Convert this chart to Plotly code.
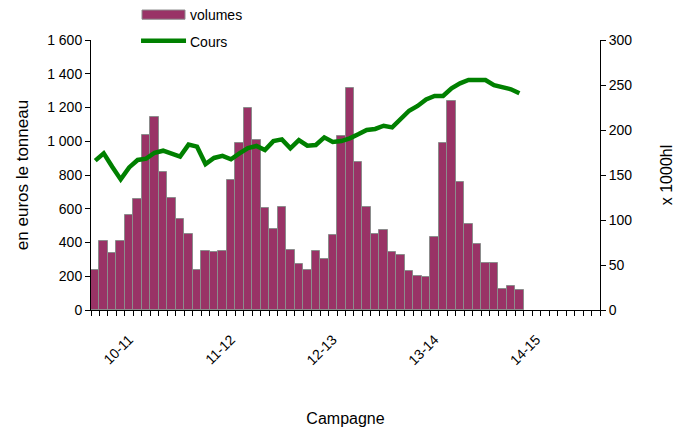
import numpy as np
import plotly.graph_objects as go

# Monthly transaction volumes (x 1000 hl) and average price (euros per tonneau)
volumes = [44, 77, 63, 77, 106, 123, 194, 215, 153, 125, 101, 84,
           45, 66, 64, 66, 144, 186, 225, 189, 113, 90, 115, 67,
           51, 45, 66, 57, 83, 193, 247, 165, 114, 84, 89, 65,
           61, 43, 38, 37, 81, 186, 232, 142, 96, 73, 52, 52,
           23, 27, 22]
cours = [885, 928, 849, 774, 845, 889, 897, 932, 944, 928, 909, 980,
         968, 865, 901, 913, 893, 928, 960, 972, 948, 1001, 1011, 958,
         1007, 974, 978, 1023, 996, 1001, 1017, 1041, 1067, 1073, 1092, 1082,
         1130, 1181, 1209, 1248, 1268, 1268, 1314, 1343, 1363, 1363, 1363, 1333,
         1320, 1308, 1284]

n_months = 60  # five campaigns of twelve months
campaign_labels = ["10-11", "11-12", "12-13", "13-14", "14-15"]
label_pos = [4 + 12 * i for i in range(len(campaign_labels))]

x_months = np.arange(len(volumes))

font = "Liberation Sans, Arial, sans-serif"
bar_color = "#993366"
bar_edge = "#8c8c8c"
line_color = "#008000"

fig = go.Figure()
# volumes on the right-hand scale, drawn first so the price line sits on top
fig.add_trace(go.Bar(
    x=x_months, y=volumes, name="volumes", yaxis="y",
    marker=dict(color=bar_color, line=dict(color=bar_edge, width=1)),
    showlegend=False,
))
fig.add_trace(go.Scatter(
    x=x_months, y=cours, name="Cours", yaxis="y2", mode="lines",
    line=dict(color=line_color, width=4.5),
    showlegend=False,
))

# hand-drawn legend block above the plot area
legend_shapes = [
    dict(type="rect", xref="paper", yref="paper",
         x0=0.1002, x1=0.1847, y0=1.077, y1=1.111,
         fillcolor=bar_color, line=dict(color=bar_edge, width=1)),
    dict(type="line", xref="paper", yref="paper",
         x0=0.0983, x1=0.1867, y0=0.9975, y1=0.9975,
         line=dict(color=line_color, width=4.5)),
]
legend_text = [
    dict(text="volumes", xref="paper", yref="paper", x=0.1906, y=1.094,
         xanchor="left", yanchor="middle", showarrow=False,
         font=dict(family=font, size=14)),
    dict(text="Cours", xref="paper", yref="paper", x=0.1906, y=0.993,
         xanchor="left", yanchor="middle", showarrow=False,
         font=dict(family=font, size=14)),
]

fig.update_layout(
    width=687, height=427,
    margin=dict(l=91, r=87, t=40, b=117),
    paper_bgcolor="white", plot_bgcolor="white",
    font=dict(family=font, size=14, color="#000000"),
    bargap=0,
    separators=", ",
    showlegend=False,
    shapes=legend_shapes,
    annotations=legend_text,
    xaxis=dict(
        range=[-0.5, n_months - 0.5],
        tickmode="array", tickvals=label_pos, ticktext=campaign_labels,
        tickangle=-45, ticks="", ticklabelstandoff=15,
        tickfont=dict(family=font, size=14),
        showline=True, linecolor="#000000", linewidth=1,
        showgrid=False, zeroline=False,
        minor=dict(ticks="outside", tickmode="linear", tick0=-0.5, dtick=1,
                   ticklen=5, tickcolor="#000000", tickwidth=1, showgrid=False),
        title=dict(text="Campagne", font=dict(family=font, size=16), standoff=45),
        automargin=False,
    ),
    yaxis=dict(
        range=[0, 300], dtick=50, side="right",
        ticks="outside", ticklen=5, tickcolor="#000000",
        showline=True, linecolor="#000000", linewidth=1,
        showgrid=False, zeroline=False,
        tickfont=dict(family=font, size=14),
        title=dict(text="x 1000hl", font=dict(family=font, size=16), standoff=29),
        automargin=False,
    ),
    yaxis2=dict(
        range=[0, 1600], dtick=200, tickformat=",", overlaying="y", side="left",
        ticks="outside", ticklen=5, tickcolor="#000000",
        showline=True, linecolor="#000000", linewidth=1,
        showgrid=False, zeroline=False,
        tickfont=dict(family=font, size=14),
        title=dict(text="en euros le tonneau", font=dict(family=font, size=17), standoff=14),
        automargin=False,
    ),
)

fig.write_html("out.html")
